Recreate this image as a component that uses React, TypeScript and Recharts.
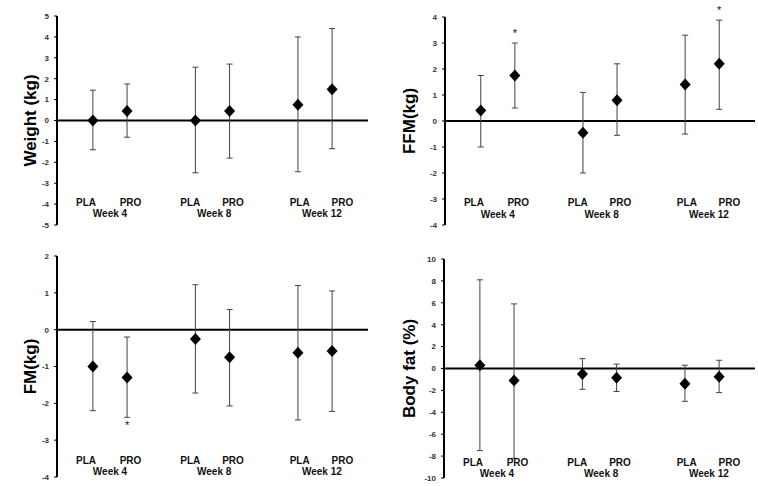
import React from "react";
import {
  ScatterChart,
  Scatter,
  XAxis,
  YAxis,
  ErrorBar,
  ReferenceLine,
  ReferenceDot,
} from "recharts";

// group order: PLA wk4, PRO wk4, PLA wk8, PRO wk8, PLA wk12, PRO wk12
const ARMS = ["PLA", "PRO", "PLA", "PRO", "PLA", "PRO"];
const WEEKS = ["Week 4", "Week 8", "Week 12"];
const X_POS = [1, 2, 4, 5, 7, 8];
const ARM_LABEL_X = [0.8, 2.1, 3.85, 5.1, 7.05, 8.3];
const WEEK_LABEL_X = [1.5, 4.55, 7.7];

const weightMean = [0, 0.45, 0, 0.45, 0.75, 1.5];
const weightHigh = [1.45, 1.75, 2.55, 2.7, 4.0, 4.4];
const weightLow = [-1.4, -0.8, -2.5, -1.8, -2.45, -1.35];

const ffmMean = [0.4, 1.75, -0.45, 0.8, 1.4, 2.2];
const ffmHigh = [1.75, 3.0, 1.1, 2.2, 3.3, 3.88];
const ffmLow = [-1.0, 0.5, -2.0, -0.55, -0.5, 0.45];

const fmMean = [-1.0, -1.3, -0.25, -0.75, -0.63, -0.58];
const fmHigh = [0.22, -0.2, 1.22, 0.55, 1.2, 1.05];
const fmLow = [-2.2, -2.38, -1.72, -2.07, -2.45, -2.22];

const bfMean = [0.3, -1.1, -0.5, -0.85, -1.4, -0.75];
const bfHigh = [8.1, 5.9, 0.9, 0.4, 0.3, 0.75];
const bfLow = [-7.5, -8.2, -1.9, -2.1, -3.0, -2.2];

const FONT = "'Liberation Sans', Arial, sans-serif";

type Panel = {
  title: string;
  mean: number[];
  high: number[];
  low: number[];
  ticks: number[];
  armY: number;
  weekY: number;
  stars: { x: number; y: number }[];
  left: number;
  top: number;
  height: number;
  axisW: number;
  margin: { top: number; right: number; bottom: number; left: number };
};

const panels: Panel[] = [
  {
    title: "Weight (kg)",
    mean: weightMean,
    high: weightHigh,
    low: weightLow,
    ticks: [-5, -4, -3, -2, -1, 0, 1, 2, 3, 4, 5],
    armY: -3.92,
    weekY: -4.45,
    stars: [],
    left: 0,
    top: 0,
    height: 240,
    axisW: 57,
    margin: { top: 16, right: 11, bottom: 15, left: 0 },
  },
  {
    title: "FFM(kg)",
    mean: ffmMean,
    high: ffmHigh,
    low: ffmLow,
    ticks: [-4, -3, -2, -1, 0, 1, 2, 3, 4],
    armY: -3.15,
    weekY: -3.58,
    stars: [
      { x: 2, y: 3.38 },
      { x: 8, y: 4.27 },
    ],
    left: 379,
    top: 0,
    height: 240,
    axisW: 66,
    margin: { top: 17, right: 3, bottom: 15, left: 0 },
  },
  {
    title: "FM(kg)",
    mean: fmMean,
    high: fmHigh,
    low: fmLow,
    ticks: [-4, -3, -2, -1, 0, 1, 2],
    armY: -3.55,
    weekY: -3.85,
    stars: [{ x: 2, y: -2.6 }],
    left: 0,
    top: 240,
    height: 246,
    axisW: 57,
    margin: { top: 16, right: 11, bottom: 9, left: 0 },
  },
  {
    title: "Body fat (%)",
    mean: bfMean,
    high: bfHigh,
    low: bfLow,
    ticks: [-10, -8, -6, -4, -2, 0, 2, 4, 6, 8, 10],
    armY: -8.6,
    weekY: -9.6,
    stars: [],
    left: 379,
    top: 240,
    height: 246,
    axisW: 65,
    margin: { top: 19, right: 3, bottom: 8, left: 0 },
  },
];

const Diamond = (props: any) => {
  const { cx, cy } = props;
  if (cx == null || cy == null) return null;
  return (
    <polygon
      points={`${cx},${cy - 6} ${cx + 5.5},${cy} ${cx},${cy + 6} ${cx - 5.5},${cy}`}
      fill="#000"
    />
  );
};

const TextMark = (size: number, weight: string) => (props: any) => {
  const { cx, cy, payload } = props;
  return (
    <text
      x={cx}
      y={cy}
      textAnchor="middle"
      dominantBaseline="central"
      fontSize={size}
      fontWeight={weight}
      fontFamily={FONT}
      fill="#111"
    >
      {payload.text}
    </text>
  );
};

const Star = (props: any) => (
  <text
    x={props.cx}
    y={props.cy}
    textAnchor="middle"
    dominantBaseline="central"
    fontSize={11}
    fontFamily={FONT}
    fill="#111"
  >
    *
  </text>
);

function PanelChart({ p }: { p: Panel }) {
  const points = X_POS.map((x, i) => ({
    x,
    y: p.mean[i],
    err: [p.mean[i] - p.low[i], p.high[i] - p.mean[i]],
  }));
  const armLabels = ARMS.map((a, i) => ({ x: ARM_LABEL_X[i], y: p.armY, text: a }));
  const weekLabels = WEEKS.map((w, i) => ({ x: WEEK_LABEL_X[i], y: p.weekY, text: w }));
  const lo = p.ticks[0];
  const hi = p.ticks[p.ticks.length - 1];

  return (
    <div style={{ position: "absolute", left: p.left, top: p.top }}>
      <ScatterChart width={379} height={p.height} margin={p.margin}>
        <XAxis type="number" dataKey="x" domain={[-0.05, 9.05]} hide />
        <YAxis
          type="number"
          dataKey="y"
          domain={[lo, hi]}
          ticks={p.ticks}
          interval={0}
          allowDataOverflow
          width={p.axisW}
          axisLine={{ stroke: "#000", strokeWidth: 2 }}
          tickLine={{ stroke: "#000", strokeWidth: 1 }}
          tickSize={3}
          tickMargin={5}
          tick={{ fontSize: 8, fontWeight: "bold", fill: "#333", fontFamily: FONT }}
          label={{
            content: (lp: any) => {
              const vb = lp.viewBox || {};
              const cx = 30;
              const cy = (vb.y ?? 0) + (vb.height ?? 0) / 2;
              return (
                <text
                  x={cx}
                  y={cy}
                  transform={`rotate(-90, ${cx}, ${cy})`}
                  textAnchor="middle"
                  dominantBaseline="central"
                  fontSize={17}
                  fontWeight="bold"
                  fontFamily={FONT}
                  fill="#000"
                >
                  {p.title}
                </text>
              );
            },
          }}
        />
        <ReferenceLine y={0} stroke="#000" strokeWidth={2} />
        <Scatter data={points} shape={<Diamond />} isAnimationActive={false}>
          <ErrorBar dataKey="err" direction="y" width={3} stroke="#444" strokeWidth={1} />
        </Scatter>
        <Scatter data={armLabels} shape={TextMark(10, "bold")} isAnimationActive={false} />
        <Scatter data={weekLabels} shape={TextMark(10, "bold")} isAnimationActive={false} />
        {p.stars.map((s, i) => (
          <ReferenceDot
            key={i}
            x={s.x}
            y={s.y}
            ifOverflow="visible"
            shape={<Star />}
          />
        ))}
      </ScatterChart>
    </div>
  );
}

export default function App() {
  return (
    <div
      style={{
        position: "absolute",
        left: 0,
        top: 0,
        width: 758,
        height: 486,
        background: "#fff",
      }}
    >
      {panels.map((p) => (
        <PanelChart key={p.title} p={p} />
      ))}
    </div>
  );
}
